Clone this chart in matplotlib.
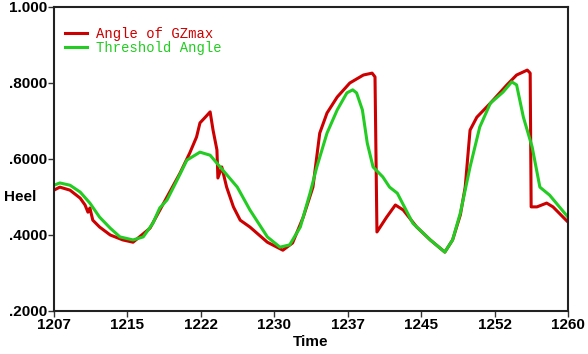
import numpy as np
import matplotlib
matplotlib.use("Agg")
import matplotlib.pyplot as plt

# time values and heel angles
gz_time = [1207.0, 1207.6, 1208.65, 1209.7, 1210.2, 1210.5, 1210.7, 1211.0, 1211.7,
           1212.8, 1214.1, 1215.15, 1216.9, 1218.65, 1220.0, 1221.0, 1221.7, 1222.05,
           1222.6, 1223.1, 1223.4, 1223.8, 1223.9, 1224.3, 1224.8, 1225.5, 1226.2,
           1227.2, 1229.0, 1230.6, 1231.6, 1232.7, 1233.7, 1234.4, 1235.15, 1236.2,
           1237.5, 1238.9, 1239.8, 1240.1, 1240.3, 1241.3, 1242.2, 1243.0, 1244.4,
           1245.8, 1247.3, 1248.1, 1248.9, 1249.4, 1249.9, 1250.6, 1252.0, 1253.7,
           1254.7, 1255.8, 1256.1, 1256.2, 1256.8, 1257.8, 1258.45, 1260.0]
gz_heel = [0.518, 0.526, 0.518, 0.497, 0.479, 0.460, 0.471, 0.439, 0.421,
           0.400, 0.387, 0.381, 0.418, 0.500, 0.563, 0.616, 0.658, 0.695,
           0.710, 0.724, 0.676, 0.624, 0.550, 0.579, 0.526, 0.474, 0.439,
           0.421, 0.381, 0.360, 0.379, 0.447, 0.526, 0.668, 0.721, 0.763,
           0.800, 0.821, 0.826, 0.816, 0.408, 0.447, 0.479, 0.466, 0.421,
           0.387, 0.355, 0.387, 0.453, 0.526, 0.676, 0.710, 0.747, 0.795,
           0.821, 0.834, 0.826, 0.474, 0.474, 0.484, 0.474, 0.434]

thr_time = [1207.0, 1207.6, 1208.65, 1209.7, 1210.7, 1211.7, 1212.8, 1213.8, 1215.15,
            1216.2, 1217.2, 1217.9, 1218.65, 1219.7, 1220.7, 1222.05, 1223.1, 1224.4,
            1225.9, 1227.2, 1229.0, 1230.3, 1231.3, 1232.4, 1233.4, 1234.1, 1235.15,
            1236.2, 1237.2, 1237.8, 1238.2, 1238.8, 1239.3, 1239.9, 1240.9, 1241.6,
            1242.4, 1244.0, 1245.8, 1247.3, 1248.1, 1248.9, 1249.9, 1250.9, 1252.0,
            1253.3, 1254.2, 1254.7, 1255.4, 1256.3, 1257.1, 1258.1, 1260.0]
thr_heel = [0.531, 0.537, 0.531, 0.513, 0.484, 0.447, 0.418, 0.395, 0.387,
            0.395, 0.431, 0.471, 0.492, 0.545, 0.597, 0.618, 0.610, 0.571,
            0.526, 0.466, 0.395, 0.368, 0.374, 0.421, 0.510, 0.579, 0.668,
            0.729, 0.774, 0.782, 0.774, 0.729, 0.642, 0.579, 0.553, 0.526,
            0.510, 0.431, 0.387, 0.355, 0.387, 0.458, 0.579, 0.684, 0.747,
            0.776, 0.803, 0.795, 0.710, 0.632, 0.526, 0.505, 0.447]

x_ticks = np.linspace(1207, 1260, 8)
x_labels = ["1207", "1215", "1222", "1230", "1237", "1245", "1252", "1260"]
y_ticks = [0.2, 0.4, 0.6, 0.8, 1.0]
y_labels = [".2000", ".4000", ".6000", ".8000", "1.000"]

red = "#cc0000"
green = "#22cc22"
font = ["Liberation Sans Narrow", "Liberation Sans", "DejaVu Sans"]

fig = plt.figure(figsize=(5.88, 3.54), dpi=100, facecolor="white")
ax = fig.add_axes([54/588, 1 - 311/354, 514/588, 304/354])

ax.plot(gz_time, gz_heel, color=red, lw=2.2, solid_joinstyle="round",
        label="Angle of GZmax")
ax.plot(thr_time, thr_heel, color=green, lw=2.2, solid_joinstyle="round",
        label="Threshold Angle")

ax.set_xlim(1207, 1260)
ax.set_ylim(0.2, 1.0)
ax.set_xticks(x_ticks)
ax.set_xticklabels(x_labels)
ax.set_yticks(y_ticks)
ax.set_yticklabels(y_labels)

for lab in ax.get_xticklabels() + ax.get_yticklabels():
    lab.set_family(font)
    lab.set_fontsize(11)
    lab.set_fontweight("bold")
ax.tick_params(direction="out", length=4, width=1, color="#333333", pad=1)

for s in ax.spines.values():
    s.set_linewidth(1.5)
    s.set_color("#222222")

ax.set_xlabel("Time", family=font, fontsize=11, fontweight="bold", labelpad=2)
fig.text(20/588, 1 - 197/354, "Heel", family=font, fontsize=11,
         fontweight="bold", ha="center", va="center")

leg = ax.legend(loc="upper left", bbox_to_anchor=(0.0, 0.972), frameon=False,
                handlelength=1.6, handletextpad=0.6, labelspacing=0.05,
                borderaxespad=0.4, labelcolor="linecolor",
                prop={"family": ["Liberation Mono", "DejaVu Sans Mono"], "size": 10})

fig.savefig("out.png", dpi=100)
